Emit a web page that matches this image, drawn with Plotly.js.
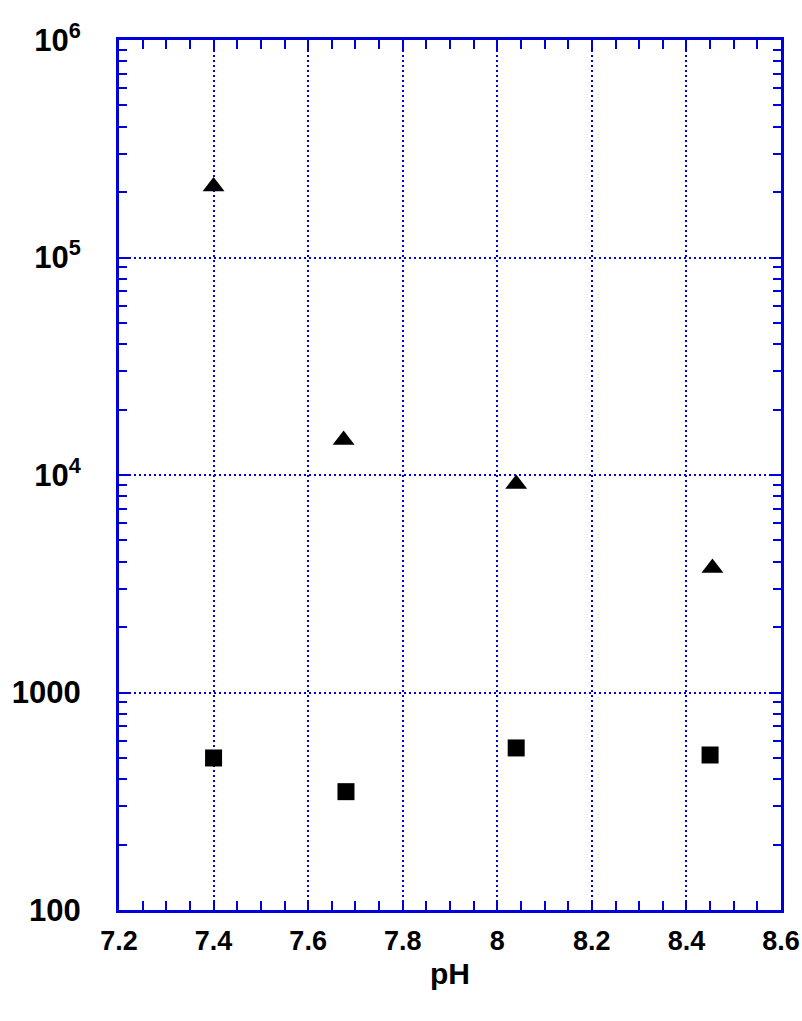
<!DOCTYPE html>
<html>
<head>
<meta charset="utf-8">
<script src="https://cdn.plot.ly/plotly-3.0.1.min.js"></script>
<style>html,body{margin:0;padding:0;background:#fff;}#chart{width:802px;height:1021px;}</style>
</head>
<body>
<div id="chart"></div>
<script>
// Data
var phTriangles = [7.40, 7.675, 8.04, 8.455];
var valTriangles = [212000, 14500, 9100, 3740];
var phSquares = [7.40, 7.68, 8.04, 8.45];
var valSquares = [500, 350, 556, 516];

var xTickVals = [7.2, 7.4, 7.6, 7.8, 8.0, 8.2, 8.4, 8.6];
var xTickText = ['7.2', '7.4', '7.6', '7.8', '8', '8.2', '8.4', '8.6'];
var yTickVals = [100, 1000, 10000, 100000, 1000000];
var yTickText = ['100', '1000', '10<sup>4</sup>', '10<sup>5</sup>', '10<sup>6</sup>'];

var blue = 'rgb(0,0,220)';
var yMinor = [];
for (var e = 2; e < 6; e++) {
  for (var k = 2; k <= 9; k++) yMinor.push(k * Math.pow(10, e));
}

var traces = [
  {x: phTriangles, y: valTriangles, type: 'scatter', mode: 'markers',
   marker: {symbol: 'triangle-up', size: 19, color: '#000'}},
  {x: phSquares, y: valSquares, type: 'scatter', mode: 'markers',
   marker: {symbol: 'square', size: 17, color: '#000'}}
];

var layout = {
  width: 802, height: 1021,
  margin: {l: 119, r: 21, t: 40, b: 111},
  showlegend: false,
  paper_bgcolor: '#fff', plot_bgcolor: '#fff',
  font: {family: 'Liberation Sans, Arial, sans-serif', color: '#000'},
  xaxis: {
    range: [7.2, 8.6],
    tickmode: 'array', tickvals: xTickVals, ticktext: xTickText,
    ticks: 'inside', ticklen: 10, tickwidth: 2, tickcolor: blue,
    showline: true, linecolor: blue, linewidth: 3, mirror: 'allticks',
    showgrid: true, gridcolor: blue, gridwidth: 2, griddash: '2px,3px',
    zeroline: false,
    tickfont: {size: 27, family: 'Liberation Sans, Arial, sans-serif', weight: 'bold'},
    ticklabelstandoff: 5,
    minor: {dtick: 0.05, tick0: 7.2, ticks: 'inside', ticklen: 9, tickwidth: 2, tickcolor: blue, showgrid: false},
    title: {text: '<b>pH</b>', font: {size: 30}, standoff: 8}
  },
  yaxis: {
    type: 'log', range: [2, 6],
    tickmode: 'array', tickvals: yTickVals, ticktext: yTickText,
    ticks: 'inside', ticklen: 10, tickwidth: 2, tickcolor: blue,
    showline: true, linecolor: blue, linewidth: 3, mirror: 'allticks',
    showgrid: true, gridcolor: blue, gridwidth: 2, griddash: '2px,3px',
    zeroline: false,
    tickfont: {size: 31, family: 'Liberation Sans, Arial, sans-serif', weight: 'bold'},
    ticklabelstandoff: 29,
    minor: {tickmode: 'array', tickvals: yMinor, ticks: 'inside', ticklen: 8, tickwidth: 2, tickcolor: blue, showgrid: false}
  }
};

Plotly.newPlot('chart', traces, layout, {displayModeBar: false, staticPlot: true});
</script>
</body>
</html>
